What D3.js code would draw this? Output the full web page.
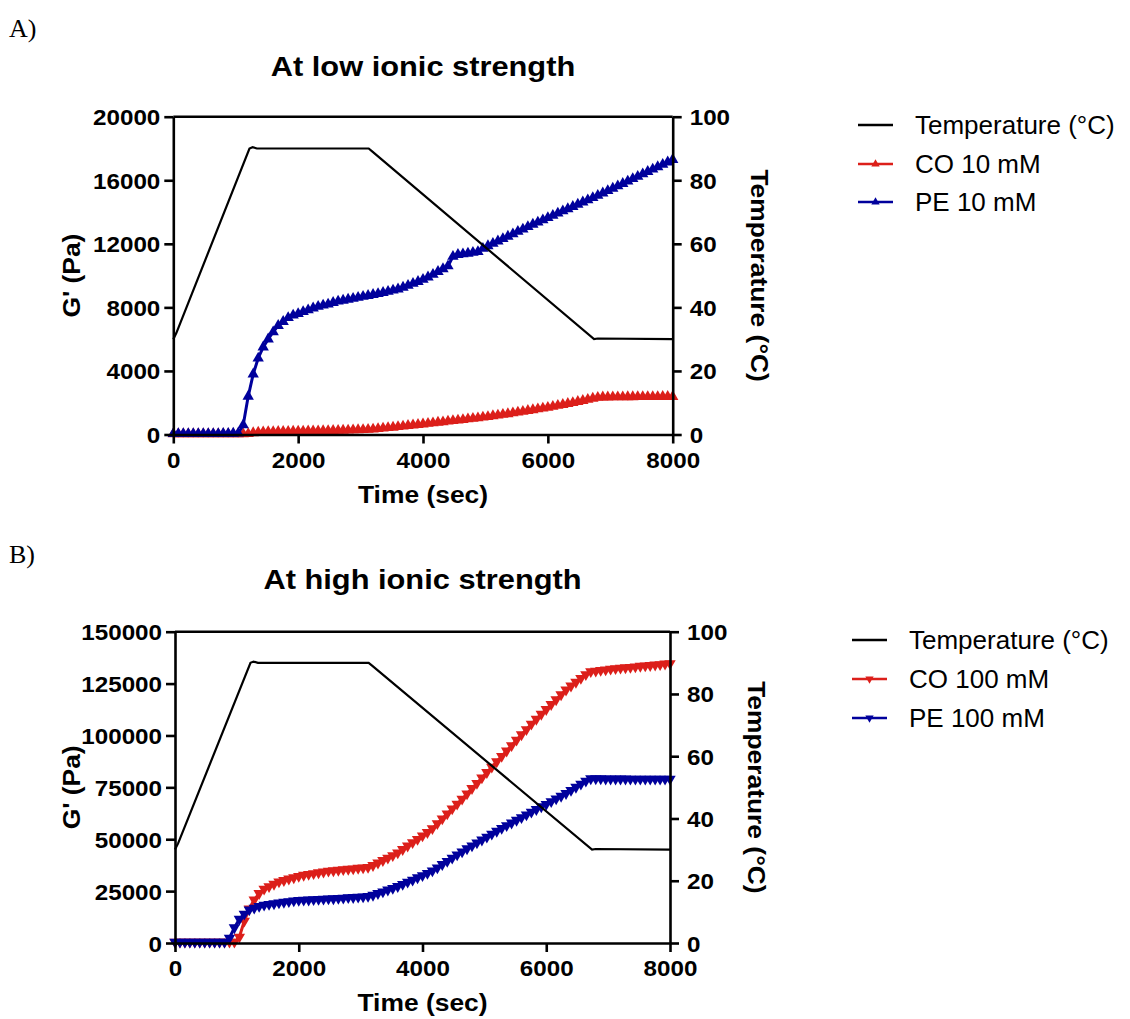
<!DOCTYPE html>
<html>
<head>
<meta charset="utf-8">
<script src="https://cdnjs.cloudflare.com/ajax/libs/d3/7.8.5/d3.min.js"></script>
<style>
  body { margin: 0; background: #fff; }
  svg { display: block; font-family: "Liberation Sans", Arial, sans-serif; }
</style>
</head>
<body>
<script>
// canvas size, same as the photo
var width = 1130,
    height = 1019;

// the bold labels of the original are drawn a bit wider than normal Arial
var SX = 1.1;

var red = "#dc1f1a",
    blue = "#00009c";

// ---- data ----
var timeTicks = [0, 2000, 4000, 6000, 8000];
var gTicksA = [0, 4000, 8000, 12000, 16000, 20000];
var gTicksB = [0, 25000, 50000, 75000, 100000, 125000, 150000];
var tempTicks = [0, 20, 40, 60, 80, 100];

// temperature program (same for both runs)
var tempTime = [0, 50, 1220, 1270, 1340, 3130, 3190, 6740, 6800, 8000];
var tempC    = [30, 32, 90, 90.4, 90, 90, 89, 30, 30.2, 30];

// G' was logged every 80 s
var sampleTime = d3.range(0, 8001, 80);

var coA = [
  30, 30, 30, 30, 30, 30, 30, 30, 30, 30,
  30, 30, 30, 40, 40, 50, 100, 140, 160, 170,
  175, 180, 185, 190, 195, 200, 205, 210, 215, 220,
  230, 235, 240, 250, 260, 270, 280, 290, 300, 310,
  330, 360, 390, 420, 450, 490, 520, 560, 590, 620,
  650, 690, 720, 760, 790, 830, 860, 900, 930, 970,
  1010, 1040, 1080, 1120, 1170, 1210, 1260, 1300, 1350, 1400,
  1450, 1500, 1550, 1600, 1650, 1700, 1760, 1820, 1880, 1940,
  2000, 2070, 2130, 2200, 2270, 2330, 2350, 2350, 2355, 2360,
  2360, 2365, 2365, 2370, 2370, 2370, 2375, 2375, 2380, 2380,
  2380
];
var peA = [
  50, 50, 50, 50, 50, 50, 50, 50, 50, 50,
  60, 60, 70, 80, 600, 2400, 3800, 4800, 5500, 6000,
  6450, 6850, 7100, 7350, 7500, 7600, 7720, 7830, 7950, 8050,
  8130, 8200, 8300, 8380, 8440, 8500, 8560, 8620, 8680, 8740,
  8800, 8860, 8930, 9000, 9080, 9150, 9260, 9380, 9500, 9620,
  9750, 9900, 10070, 10250, 10420, 10600, 11200, 11320, 11360, 11400,
  11450, 11500, 11700, 11870, 12020, 12170, 12320, 12470, 12620, 12770,
  12920, 13070, 13220, 13360, 13500, 13640, 13780, 13920, 14060, 14200,
  14340, 14480, 14620, 14760, 14900, 15040, 15190, 15340, 15490, 15640,
  15790, 15940, 16090, 16240, 16390, 16540, 16690, 16840, 16990, 17140,
  17300
];
var coB = [
  500, 500, 500, 500, 500, 500, 500, 500, 500, 500,
  500, 500, 500, 2900, 10600, 16500, 20800, 23900, 26000, 27200,
  28400, 29500, 30200, 30900, 31500, 32200, 32700, 33100, 33500, 33900,
  34300, 34700, 34900, 35100, 35400, 35600, 35800, 36100, 36300, 36500,
  37400, 38600, 39800, 41000, 42200, 43500, 45100, 46800, 48400, 50000,
  51700, 53300, 55200, 57600, 59900, 62300, 64700, 67000, 69400, 71900,
  74500, 77000, 79600, 82200, 84800, 87400, 90000, 92600, 95200, 97800,
  100400, 102900, 105500, 107900, 110300, 112600, 115000, 117300, 119700, 122000,
  123900, 125700, 127600, 129400, 130800, 131100, 131400, 131700, 132000, 132300,
  132500, 132700, 132900, 133100, 133400, 133600, 133800, 134000, 134200, 134500,
  134700
];
var peB = [
  500, 500, 500, 500, 500, 500, 500, 500, 500, 500,
  500, 2400, 7400, 11500, 14000, 16000, 16900, 17700, 18300, 18700,
  19000, 19400, 19700, 20000, 20400, 20600, 20700, 20800, 21000, 21100,
  21200, 21300, 21400, 21600, 21700, 21900, 22000, 22200, 22300, 22500,
  23100, 23900, 24700, 25600, 26400, 27300, 28300, 29400, 30400, 31500,
  32500, 33600, 34800, 36300, 37900, 39400, 41000, 42500, 44000, 45500,
  46900, 48300, 49700, 51100, 52500, 53900, 55300, 56600, 57900, 59200,
  60500, 61800, 63100, 64400, 65700, 66900, 68200, 69500, 70800, 72100,
  73600, 75100, 76600, 78100, 79200, 79200, 79200, 79100, 79100, 79100,
  79100, 79100, 79000, 79000, 79000, 79000, 79000, 79000, 79000, 79000,
  79000
];

var svg = d3.select("body")
    .append("svg")
    .attr("width", width)
    .attr("height", height);

// panel letters
svg.append("text").attr("x", 9).attr("y", 37)
    .style("font-family", "'Liberation Serif', 'Times New Roman', serif")
    .style("font-size", "26px").text("A)");
svg.append("text").attr("x", 9).attr("y", 563)
    .style("font-family", "'Liberation Serif', 'Times New Roman', serif")
    .style("font-size", "26px").text("B)");

// one panel = left G' axis, right temperature axis, shared time axis
function drawPanel(p) {
    var x = d3.scaleLinear().domain([0, 8000]).range([p.left, p.right]);
    var y = d3.scaleLinear().domain([0, p.gTicks[p.gTicks.length - 1]]).range([p.bottom, p.top]);
    var yT = d3.scaleLinear().domain([0, 100]).range([p.bottom, p.top]);

    var g = svg.append("g");

    // title
    g.append("text")
        .attr("transform", "translate(" + ((p.left + p.right) / 2) + "," + p.titleY + ") scale(" + SX + ",1)")
        .attr("text-anchor", "middle")
        .style("font-size", "28px").style("font-weight", "bold")
        .text(p.title);

    // series: G' lines with triangle markers
    var line = d3.line().x(function(d) { return x(d[0]); }).y(function(d) { return y(d[1]); });
    var tri = d3.symbol().type(d3.symbolTriangle).size(56);

    p.series.forEach(function(s) {
        var pts = sampleTime.map(function(t, i) { return [t, s.values[i]]; });
        g.append("path")
            .attr("d", line(pts))
            .attr("fill", "none")
            .attr("stroke", s.color)
            .attr("stroke-width", 3);
        g.append("g").selectAll("path")
            .data(pts)
            .enter().append("path")
            .attr("d", tri)
            .attr("fill", s.color)
            .attr("transform", function(d) {
                return "translate(" + x(d[0]) + "," + y(d[1]) + ")" + (p.down ? " rotate(180)" : "");
            });
    });

    // temperature line
    var tLine = d3.line().x(function(d) { return x(d[0]); }).y(function(d) { return yT(d[1]); });
    g.append("path")
        .attr("d", tLine(tempTime.map(function(t, i) { return [t, tempC[i]]; })))
        .attr("fill", "none")
        .attr("stroke", "#000")
        .attr("stroke-width", 2.2);

    // axes
    var xAxis = g.append("g")
        .attr("class", "axis")
        .attr("transform", "translate(0," + p.bottom + ")")
        .call(d3.axisBottom(x).tickValues(timeTicks).tickSize(9).tickSizeOuter(0).tickFormat(d3.format("d")));
    xAxis.selectAll("text")
        .attr("y", 0).attr("dy", 0)
        .attr("transform", "translate(0,33) scale(" + SX + ",1)");

    var lAxis = g.append("g")
        .attr("class", "axis")
        .attr("transform", "translate(" + p.left + ",0)")
        .call(d3.axisLeft(y).tickValues(p.gTicks).tickSize(9).tickSizeOuter(0).tickFormat(d3.format("d")));
    lAxis.selectAll("text")
        .attr("x", 0).attr("dy", 0)
        .attr("transform", "translate(-13,8) scale(" + SX + ",1)");

    var rAxis = g.append("g")
        .attr("class", "axis")
        .attr("transform", "translate(" + p.right + ",0)")
        .call(d3.axisRight(yT).tickValues(tempTicks).tickSize(9).tickSizeOuter(0));
    rAxis.selectAll("text")
        .attr("x", 0).attr("dy", 0)
        .attr("transform", "translate(17,8) scale(" + SX + ",1)");

    // top frame line
    g.append("line")
        .attr("x1", p.left).attr("x2", p.right)
        .attr("y1", p.top).attr("y2", p.top)
        .attr("stroke", "#000").attr("stroke-width", 2.6);

    g.selectAll(".axis path, .axis line")
        .attr("stroke", "#000").attr("stroke-width", 2.6);
    g.selectAll(".axis text")
        .attr("fill", "#000")
        .style("font-size", "22px").style("font-weight", "bold")
        .style("font-family", "'Liberation Sans', Arial, sans-serif");

    // axis titles
    g.append("text")
        .attr("transform", "translate(" + ((p.left + p.right) / 2) + "," + (p.bottom + 68) + ") scale(" + SX + ",1)")
        .attr("text-anchor", "middle")
        .style("font-size", "24px").style("font-weight", "bold")
        .text("Time (sec)");
    g.append("text")
        .attr("transform", "translate(80," + ((p.top + p.bottom) / 2) + ") rotate(-90) scale(" + SX + ",1)")
        .attr("text-anchor", "middle")
        .style("font-size", "24px").style("font-weight", "bold")
        .text("G' (Pa)");
    g.append("text")
        .attr("transform", "translate(" + (p.right + 78) + "," + ((p.top + p.bottom) / 2) + ") rotate(90) scale(" + SX + ",1)")
        .attr("text-anchor", "middle")
        .style("font-size", "24px").style("font-weight", "bold")
        .text("Temperature (°C)");

    // legend
    var leg = g.append("g");
    var items = [{ name: "Temperature (°C)", color: "#000", marker: false }]
        .concat(p.series.map(function(s) { return { name: s.name, color: s.color, marker: true }; }));
    items.forEach(function(it, i) {
        var ly = p.legY[i];
        leg.append("line")
            .attr("x1", p.legX).attr("x2", p.legX + 35)
            .attr("y1", ly).attr("y2", ly)
            .attr("stroke", it.color).attr("stroke-width", 2.6);
        if (it.marker) {
            leg.append("path")
                .attr("d", d3.symbol().type(d3.symbolTriangle).size(30))
                .attr("fill", it.color)
                .attr("transform", "translate(" + (p.legX + 17.5) + "," + ly + ")" + (p.down ? " rotate(180)" : ""));
        }
        leg.append("text")
            .attr("x", p.legX + 57).attr("y", ly + 9)
            .style("font-size", "26px")
            .text(it.name);
    });
}

drawPanel({
    left: 173.3, right: 672.7, top: 116.7, bottom: 434.5,
    gTicks: gTicksA, title: "At low ionic strength", titleY: 76,
    down: false,
    series: [
        { name: "CO 10 mM", color: red, values: coA },
        { name: "PE 10 mM", color: blue, values: peA }
    ],
    legX: 858, legY: [125, 164, 202]
});

drawPanel({
    left: 175, right: 670, top: 631.7, bottom: 943,
    gTicks: gTicksB, title: "At high ionic strength", titleY: 589,
    down: true,
    series: [
        { name: "CO 100 mM", color: red, values: coB },
        { name: "PE 100 mM", color: blue, values: peB }
    ],
    legX: 852, legY: [640, 679, 718]
});
</script>
</body>
</html>
